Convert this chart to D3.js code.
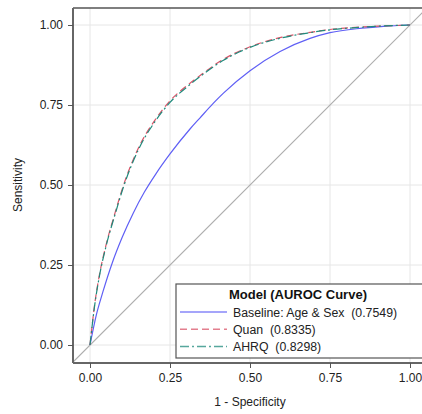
<!DOCTYPE html>
<html><head><meta charset="utf-8">
<script src="https://cdn.jsdelivr.net/npm/d3@7"></script>
<style>body{margin:0;background:#fff}svg{display:block}text{font-family:"Liberation Sans",Arial,sans-serif}</style>
</head><body><svg id="c" width="422" height="414"></svg>
<script>
const tickValues = [0, 0.25, 0.5, 0.75, 1];
const tickLabels = ["0.00", "0.25", "0.50", "0.75", "1.00"];
const seriesNames = ["Baseline: Age & Sex  (0.7549)", "Quan  (0.8335)", "AHRQ  (0.8298)"];
const baselineFpr = [0, 0.02, 0.04, 0.07, 0.1, 0.135, 0.17, 0.206, 0.25, 0.3125, 0.344, 0.385, 0.417, 0.5, 0.594, 0.6875, 0.75, 0.85, 0.917, 1];
const baselineTpr = [0, 0.095, 0.165, 0.258, 0.335, 0.412, 0.478, 0.535, 0.597, 0.675, 0.71, 0.755, 0.787, 0.857, 0.917, 0.958, 0.976, 0.99, 0.996, 1];
const quanFpr = [0, 0.015, 0.03, 0.05, 0.078, 0.104, 0.151, 0.203, 0.25, 0.3125, 0.344, 0.417, 0.5, 0.6, 0.6875, 0.75, 0.85, 0.917, 1];
const quanTpr = [0, 0.13, 0.222, 0.312, 0.412, 0.497, 0.615, 0.703, 0.763, 0.818, 0.842, 0.893, 0.932, 0.962, 0.977, 0.986, 0.994, 0.997, 1];
const ahrqFpr = [0, 0.015, 0.03, 0.05, 0.078, 0.104, 0.151, 0.203, 0.25, 0.3125, 0.344, 0.417, 0.5, 0.6, 0.6875, 0.75, 0.85, 0.917, 1];
const ahrqTpr = [0, 0.127, 0.218, 0.308, 0.407, 0.492, 0.61, 0.698, 0.758, 0.814, 0.839, 0.89, 0.93, 0.96, 0.976, 0.985, 0.993, 0.997, 1];

const svg = d3.select("#c");
const L = 73, T = 8, R = 427, B = 363;
const x = d3.scaleLinear().domain([0, 1]).range([90, 410]);
const y = d3.scaleLinear().domain([0, 1]).range([345, 25]);
const xmin = x.invert(L), xmax = x.invert(R);

const defs = svg.append("defs");
defs.append("clipPath").attr("id","clip").append("rect").attr("x",L).attr("y",T).attr("width",R-L).attr("height",B-T);
const g = svg.append("g").attr("clip-path","url(#clip)");

// grid
g.selectAll(".gx").data(tickValues).join("line").attr("x1",d=>x(d)).attr("x2",d=>x(d)).attr("y1",T).attr("y2",B).attr("stroke","#e6e6e6").attr("stroke-width",1);
g.selectAll(".gy").data(tickValues).join("line").attr("y1",d=>y(d)).attr("y2",d=>y(d)).attr("x1",L).attr("x2",R).attr("stroke","#e6e6e6").attr("stroke-width",1);

// diagonal
g.append("line").attr("x1",x(xmin)).attr("y1",y(xmin)).attr("x2",x(xmax)).attr("y2",y(xmax)).attr("stroke","#adadad").attr("stroke-width",1.2);

const line = d3.line().x(d=>x(d[0])).y(d=>y(d[1])).curve(d3.curveMonotoneX);
const series = [
  {fpr: baselineFpr, tpr: baselineTpr, color:"#5f5ff5", dash:null},
  {fpr: quanFpr, tpr: quanTpr, color:"#d95468", dash:"7,4"},
  {fpr: ahrqFpr, tpr: ahrqTpr, color:"#1f8a7c", dash:"9,3,2,3"}
];
series.forEach(s=>{
  g.append("path").datum(s.fpr.map((f,i)=>[f,s.tpr[i]])).attr("d",line).attr("fill","none")
   .attr("stroke",s.color).attr("stroke-width",1.2).attr("stroke-dasharray",s.dash);
});

// frame
svg.append("line").attr("x1",L).attr("x2",R).attr("y1",T).attr("y2",T).attr("stroke","#555").attr("stroke-width",1.5);
svg.append("line").attr("x1",L).attr("x2",L).attr("y1",T).attr("y2",B).attr("stroke","#666").attr("stroke-width",2);
svg.append("line").attr("x1",L).attr("x2",R).attr("y1",B).attr("y2",B).attr("stroke","#666").attr("stroke-width",2);

// axes
const xa = svg.append("g").attr("transform",`translate(0,${B})`)
  .call(d3.axisBottom(x).tickValues(tickValues).tickFormat((d,i)=>tickLabels[i]).tickSize(5).tickPadding(5));
const ya = svg.append("g").attr("transform",`translate(${L},0)`)
  .call(d3.axisLeft(y).tickValues(tickValues).tickFormat((d,i)=>tickLabels[i]).tickSize(5).tickPadding(5));
[xa,ya].forEach(a=>{
  a.select(".domain").remove();
  a.selectAll(".tick line").attr("stroke","#555");
  a.selectAll("text").attr("fill","#222").style("font-size","12px").style("font-family","'Liberation Sans',Arial,sans-serif");
});

svg.append("text").attr("x",250).attr("y",406).attr("text-anchor","middle").style("font-size","12px").attr("fill","#222").text("1 - Specificity");
svg.append("text").attr("transform","translate(22,185) rotate(-90)").attr("text-anchor","middle").style("font-size","12px").attr("fill","#222").text("Sensitivity");

// legend
const lg = svg.append("g");
lg.append("rect").attr("x",176).attr("y",284).attr("width",250).attr("height",74).attr("fill","#fff").attr("stroke","#555").attr("stroke-width",1.2);
lg.append("text").attr("x",298).attr("y",299).attr("text-anchor","middle").style("font-size","13px").style("font-weight","bold").attr("fill","#111").text("Model (AUROC Curve)");
series.forEach((s,i)=>{
  const yy = 312 + i*17.3;
  lg.append("line").attr("x1",180).attr("x2",227).attr("y1",yy).attr("y2",yy).attr("stroke",s.color).attr("stroke-opacity",0.75).attr("stroke-width",1.5).attr("stroke-dasharray",s.dash);
  lg.append("text").attr("x",233).attr("y",yy+4.5).style("font-size","12.3px").attr("fill","#222").style("white-space","pre").attr("xml:space","preserve").text(seriesNames[i]);
});
</script></body></html>
